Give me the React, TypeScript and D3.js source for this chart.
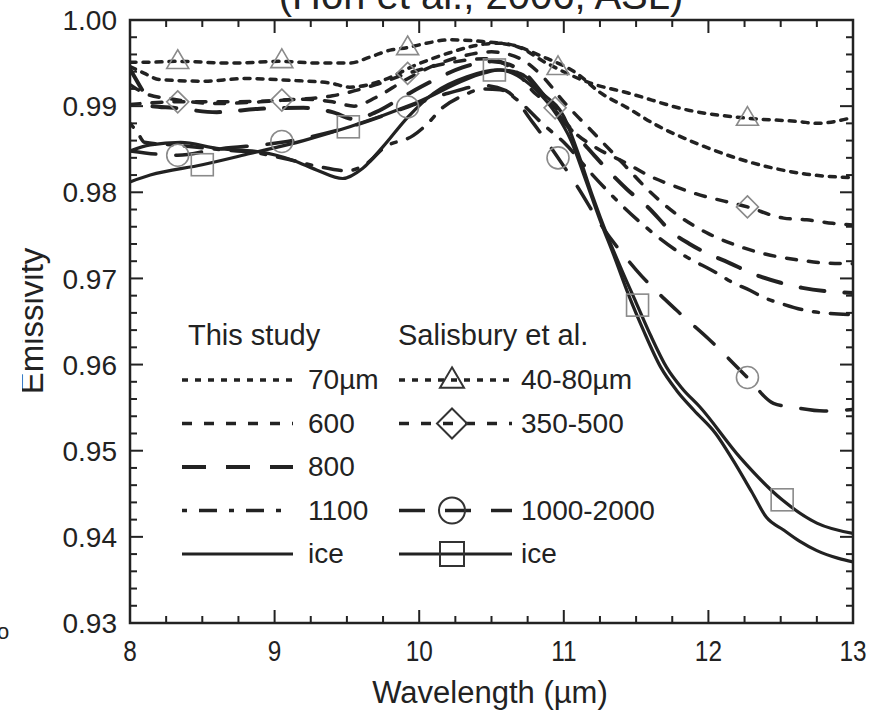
import React from "react";
import * as d3 from "d3";

// axis ticks
const xTicks = [8, 9, 10, 11, 12, 13];
const yTicks = [0.93, 0.94, 0.95, 0.96, 0.97, 0.98, 0.99, 1.0];

// This study (wavelength µm, emissivity)
const study70: [number, number][] = [
  [8, 0.9946], [8.1, 0.9938], [8.2, 0.9931], [8.5, 0.9929], [8.8, 0.9932], [9.1, 0.993],
  [9.38, 0.9927], [9.52, 0.9922], [9.75, 0.993], [9.98, 0.9948], [10.21, 0.9962], [10.45, 0.9972],
  [10.56, 0.9973], [10.86, 0.9957], [11.09, 0.9938], [11.25, 0.9916], [11.44, 0.9898], [11.64, 0.9878],
  [11.9, 0.9858], [12.17, 0.9841], [12.45, 0.9828], [12.68, 0.9821], [13, 0.9817],
];
const study600: [number, number][] = [
  [8, 0.9925], [8.1, 0.9915], [8.3, 0.9908], [8.6, 0.9903], [8.9, 0.9905], [9.2, 0.9908],
  [9.4, 0.9905], [9.55, 0.99], [9.7, 0.991], [9.9, 0.993], [10.1, 0.9947], [10.3, 0.9958],
  [10.5, 0.9963], [10.7, 0.9955], [10.85, 0.9935], [11.0, 0.9905], [11.2, 0.987], [11.4, 0.9835],
  [11.6, 0.98], [11.8, 0.9772], [12.0, 0.9752], [12.2, 0.9738], [12.4, 0.9728], [12.6, 0.9722],
  [12.8, 0.9718], [13, 0.9717],
];
const study800: [number, number][] = [
  [8, 0.9943], [8.08, 0.992], [8.15, 0.99], [8.3, 0.9898], [8.6, 0.9893], [8.9, 0.9897],
  [9.2, 0.9898], [9.4, 0.9893], [9.55, 0.9885], [9.7, 0.9893], [9.9, 0.9912], [10.1, 0.993],
  [10.3, 0.9945], [10.5, 0.9952], [10.7, 0.9942], [10.85, 0.9915], [11.0, 0.9882], [11.13, 0.9858],
  [11.22, 0.9841], [11.44, 0.9803], [11.58, 0.9783], [11.76, 0.9752], [11.87, 0.974], [12.17, 0.9716],
  [12.33, 0.9704], [12.5, 0.9695], [12.65, 0.9689], [13, 0.9683],
];
const study1100: [number, number][] = [
  [8, 0.988], [8.05, 0.987], [8.1, 0.9858], [8.3, 0.9855], [8.6, 0.985], [8.9, 0.9845],
  [9.1, 0.9838], [9.3, 0.983], [9.5, 0.9825], [9.65, 0.9835], [9.75, 0.9851], [9.96, 0.9866],
  [10.06, 0.988], [10.16, 0.9898], [10.3, 0.9912], [10.45, 0.992], [10.56, 0.9919], [10.68, 0.9907],
  [10.85, 0.988], [11.0, 0.9858], [11.2, 0.982], [11.4, 0.9785], [11.6, 0.9755], [11.8, 0.973],
  [12.06, 0.9706], [12.17, 0.9695], [12.29, 0.9686], [12.38, 0.9678], [12.5, 0.9671], [12.7, 0.9662],
  [13, 0.9658],
];
const studyIce: [number, number][] = [
  [8, 0.9848], [8.14, 0.9855], [8.35, 0.9858], [8.6, 0.9851], [8.9, 0.9847], [9.13, 0.9837],
  [9.29, 0.9826], [9.47, 0.9816], [9.61, 0.9828], [9.75, 0.9853], [9.92, 0.9887], [10.1, 0.9915],
  [10.33, 0.9934], [10.54, 0.9942], [10.65, 0.9938], [10.8, 0.992], [10.95, 0.989], [11.05, 0.986],
  [11.15, 0.9815], [11.25, 0.9768], [11.35, 0.9725], [11.45, 0.968], [11.55, 0.964], [11.67, 0.9597],
  [11.78, 0.957], [11.9, 0.9547], [12.05, 0.952], [12.17, 0.9489], [12.3, 0.9452], [12.4, 0.9423],
  [12.52, 0.9408], [12.63, 0.9395], [12.75, 0.9384], [12.9, 0.9375], [13, 0.9371],
];

// Salisbury et al.
const sal4080: [number, number][] = [
  [8, 0.9951], [8.14, 0.9951], [8.33, 0.9952], [8.7, 0.995], [9.05, 0.9952], [9.3, 0.995],
  [9.52, 0.995], [9.66, 0.9957], [9.8, 0.9965], [9.92, 0.9968], [10.05, 0.9973], [10.21, 0.9977],
  [10.44, 0.9975], [10.68, 0.9969], [10.88, 0.995], [11.18, 0.9927], [11.45, 0.9915], [11.87, 0.9895],
  [12.27, 0.9886], [12.63, 0.9882], [12.75, 0.988], [13, 0.9887],
];
const sal350500: [number, number][] = [
  [8, 0.9902], [8.33, 0.9905], [8.7, 0.9905], [9.05, 0.9907], [9.4, 0.9912], [9.7, 0.9925],
  [9.92, 0.9938], [10.2, 0.995], [10.45, 0.9955], [10.65, 0.9943], [10.8, 0.9915], [10.94, 0.9898],
  [11.06, 0.9872], [11.22, 0.9852], [11.43, 0.9834], [11.58, 0.982], [11.75, 0.9808], [11.9, 0.9799],
  [12.27, 0.9783], [12.52, 0.977], [12.68, 0.9768], [12.86, 0.9764], [13, 0.9762],
];
const sal10002000: [number, number][] = [
  [8, 0.9848], [8.33, 0.9843], [8.6, 0.985], [9.05, 0.9858], [9.5, 0.9875], [9.92, 0.9899],
  [10.2, 0.9915], [10.45, 0.9924], [10.6, 0.9918], [10.79, 0.988], [10.96, 0.984], [11.1, 0.9805],
  [11.25, 0.9764], [11.5, 0.971], [11.78, 0.9663], [12.0, 0.963], [12.27, 0.9585], [12.45, 0.9555],
  [12.6, 0.955], [12.8, 0.9546], [13, 0.9548],
];
const salIce: [number, number][] = [
  [8, 0.9812], [8.14, 0.982], [8.5, 0.9832], [8.83, 0.9845], [9.2, 0.986], [9.52, 0.9876],
  [9.98, 0.9904], [10.44, 0.9938], [10.56, 0.9942], [10.7, 0.9938], [10.85, 0.9915], [11.0, 0.9888],
  [11.1, 0.9845], [11.2, 0.9795], [11.3, 0.975], [11.4, 0.971], [11.5, 0.9672], [11.6, 0.9634],
  [11.71, 0.9597], [11.82, 0.9572], [11.94, 0.9551], [12.22, 0.9492], [12.51, 0.9443], [12.75, 0.9416],
  [13, 0.9404],
];

// Salisbury marker points
const triMarks: [number, number][] = [[8.33, 0.9952], [9.05, 0.9953], [9.92, 0.9968], [10.96, 0.9945], [12.27, 0.9886]];
const diaMarks: [number, number][] = [[8.33, 0.9905], [9.05, 0.9907], [9.92, 0.9938], [10.94, 0.9898], [12.27, 0.9783]];
const cirMarks: [number, number][] = [[8.33, 0.9843], [9.05, 0.9859], [9.92, 0.9899], [10.96, 0.984], [12.27, 0.9585]];
const sqMarks: [number, number][] = [[8.5, 0.9832], [9.51, 0.9876], [10.52, 0.9942], [11.51, 0.9669], [12.51, 0.9443]];

const studyLabels = ["70µm", "600", "800", "1100", "ice"];
const salLabels = ["40-80µm", "350-500", "", "1000-2000", "ice"];

const INK = "#222";
const MARK = "#8a8a8a";
const FONT = "'Liberation Sans', Arial, Helvetica, sans-serif";

type Style = { dash: string | null; w: number };
const studyStyles: Style[] = [
  { dash: "6,7", w: 3.5 },
  { dash: "10,12", w: 3.5 },
  { dash: "24,20", w: 4 },
  { dash: "5,12,18,12", w: 3.5 },
  { dash: null, w: 3.2 },
];
const salStyles: (Style | null)[] = [
  { dash: "6,7", w: 3.5 },
  { dash: "10,12", w: 3.5 },
  null,
  { dash: "26,20", w: 3.5 },
  { dash: null, w: 3.2 },
];

function Marker({ kind, x, y, s, color, sw }: { kind: string; x: number; y: number; s: number; color: string; sw: number }) {
  const common = { fill: "none", stroke: color, strokeWidth: sw };
  if (kind === "tri") {
    const h = s * 0.85;
    return <path d={`M${x},${y - h * 0.62}L${x + s / 2},${y + h * 0.38}L${x - s / 2},${y + h * 0.38}Z`} {...common} />;
  }
  if (kind === "dia") {
    const r = s / 2;
    return <path d={`M${x},${y - r}L${x + r},${y}L${x},${y + r}L${x - r},${y}Z`} {...common} />;
  }
  if (kind === "cir") return <circle cx={x} cy={y} r={s / 2} {...common} />;
  return <rect x={x - s / 2} y={y - s / 2} width={s} height={s} {...common} />;
}

export default function App() {
  const W = 884, H = 713;
  const x = d3.scaleLinear().domain([8, 13]).range([130, 853]);
  const y = d3.scaleLinear().domain([0.93, 1.0]).range([623, 20]);
  const line = d3.line<[number, number]>().x((d) => x(d[0])).y((d) => y(d[1])).curve(d3.curveMonotoneX);

  const xMinor = d3.range(8, 13.0001, 0.25);
  const yMinor = d3.range(0.93, 1.00001, 0.002);
  const isMajorX = (v: number) => Math.abs(v - Math.round(v)) < 1e-6;
  const isMajorY = (v: number) => Math.abs(v * 100 - Math.round(v * 100)) < 1e-6;

  const studySeries = [study70, study600, study800, study1100, studyIce];
  const salSeries = [sal4080, sal350500, null, sal10002000, salIce];
  const markKinds = ["tri", "dia", "", "cir", "sq"];
  const markSets = [triMarks, diaMarks, [], cirMarks, sqMarks];

  const [x0, x1] = x.range();
  const [y0, y1] = [y(1.0), y(0.93)];

  const legRow = (i: number) => 379 + i * 43.5;

  return (
    <svg width={W} height={H} style={{ position: "absolute", left: 0, top: 0, background: "#fff" }} fontFamily={FONT}>
      <defs>
        <clipPath id="plotClip">
          <rect x={x0} y={y0} width={x1 - x0} height={y1 - y0} />
        </clipPath>
        <clipPath id="ylabClip">
          <rect x={22} y={0} width={100} height={H} />
        </clipPath>
      </defs>
      <rect width={W} height={H} fill="#fff" />

      {/* title, cut off at the top in the source */}
      <text x={481} y={9} textAnchor="middle" fontSize={40} fill={INK}>(Hori et al., 2006, ASL)</text>

      {/* curves */}
      <g clipPath="url(#plotClip)">
        {salSeries.map((s, i) => s && (
          <path key={"s" + i} d={line(s) || ""} fill="none" stroke={INK} strokeWidth={salStyles[i]!.w}
            strokeDasharray={salStyles[i]!.dash || undefined} strokeLinecap="round" strokeLinejoin="round" />
        ))}
        {studySeries.map((s, i) => (
          <path key={"t" + i} d={line(s) || ""} fill="none" stroke={INK} strokeWidth={studyStyles[i].w}
            strokeDasharray={studyStyles[i].dash || undefined} strokeLinecap="round" strokeLinejoin="round" />
        ))}
        {markSets.map((set, i) => (set as [number, number][]).map((p, j) => (
          <Marker key={`m${i}-${j}`} kind={markKinds[i]} x={x(p[0])} y={y(p[1])} s={22} color={MARK} sw={1.6} />
        )))}
      </g>

      {/* frame */}
      <rect x={x0} y={y0} width={x1 - x0} height={y1 - y0} fill="none" stroke={INK} strokeWidth={2.5} />

      {/* ticks, inward on all four sides */}
      {xMinor.map((v) => {
        const len = isMajorX(v) ? 13 : 7;
        return (
          <g key={"xt" + v} stroke={INK} strokeWidth={2}>
            <line x1={x(v)} x2={x(v)} y1={y1} y2={y1 - len} />
            <line x1={x(v)} x2={x(v)} y1={y0} y2={y0 + len} />
          </g>
        );
      })}
      {yMinor.map((v) => {
        const len = isMajorY(v) ? 13 : 7;
        return (
          <g key={"yt" + v} stroke={INK} strokeWidth={2}>
            <line x1={x0} x2={x0 + len} y1={y(v)} y2={y(v)} />
            <line x1={x1} x2={x1 - len} y1={y(v)} y2={y(v)} />
          </g>
        );
      })}

      {/* tick labels */}
      {yTicks.map((v) => (
        <text key={"yl" + v} x={117} y={y(v)} dy="0.36em" textAnchor="end" fontSize={28} fill={INK}>{v.toFixed(2)}</text>
      ))}
      {xTicks.map((v) => (
        <text key={"xl" + v} transform={`translate(${x(v)},661) scale(0.84,1)`} textAnchor="middle" fontSize={29} fill={INK}>{v}</text>
      ))}

      {/* axis titles */}
      <text x={490} y={703} textAnchor="middle" fontSize={31} fill={INK}>Wavelength (µm)</text>
      <g clipPath="url(#ylabClip)">
        <text transform="translate(43,321) rotate(-90)" textAnchor="middle" fontSize={33} fill={INK}>Emissivity</text>
      </g>
      <text x={-3} y={639} fontSize={22} fill={INK}>o</text>

      {/* legend */}
      <text x={188} y={345} fontSize={29} fill={INK}>This study</text>
      <text x={398} y={345} fontSize={29} fill={INK}>Salisbury et al.</text>
      {studyLabels.map((lab, i) => (
        <g key={"ls" + i}>
          <line x1={182} x2={293} y1={legRow(i) + 1} y2={legRow(i) + 1} stroke={INK} strokeWidth={studyStyles[i].w}
            strokeDasharray={studyStyles[i].dash || undefined} />
          <text x={308} y={legRow(i)} dy="0.36em" fontSize={28} fill={INK}>{lab}</text>
        </g>
      ))}
      {salLabels.map((lab, i) => salStyles[i] && (
        <g key={"lr" + i}>
          <line x1={399} x2={512} y1={legRow(i) + 1} y2={legRow(i) + 1} stroke={INK} strokeWidth={salStyles[i]!.w}
            strokeDasharray={salStyles[i]!.dash || undefined} />
          <Marker kind={markKinds[i]} x={452} y={legRow(i) + 1} s={i === 1 ? 30 : i === 3 ? 26 : 24} color="#333" sw={2} />
          <text x={521} y={legRow(i)} dy="0.36em" fontSize={28} fill={INK}>{lab}</text>
        </g>
      ))}
    </svg>
  );
}
